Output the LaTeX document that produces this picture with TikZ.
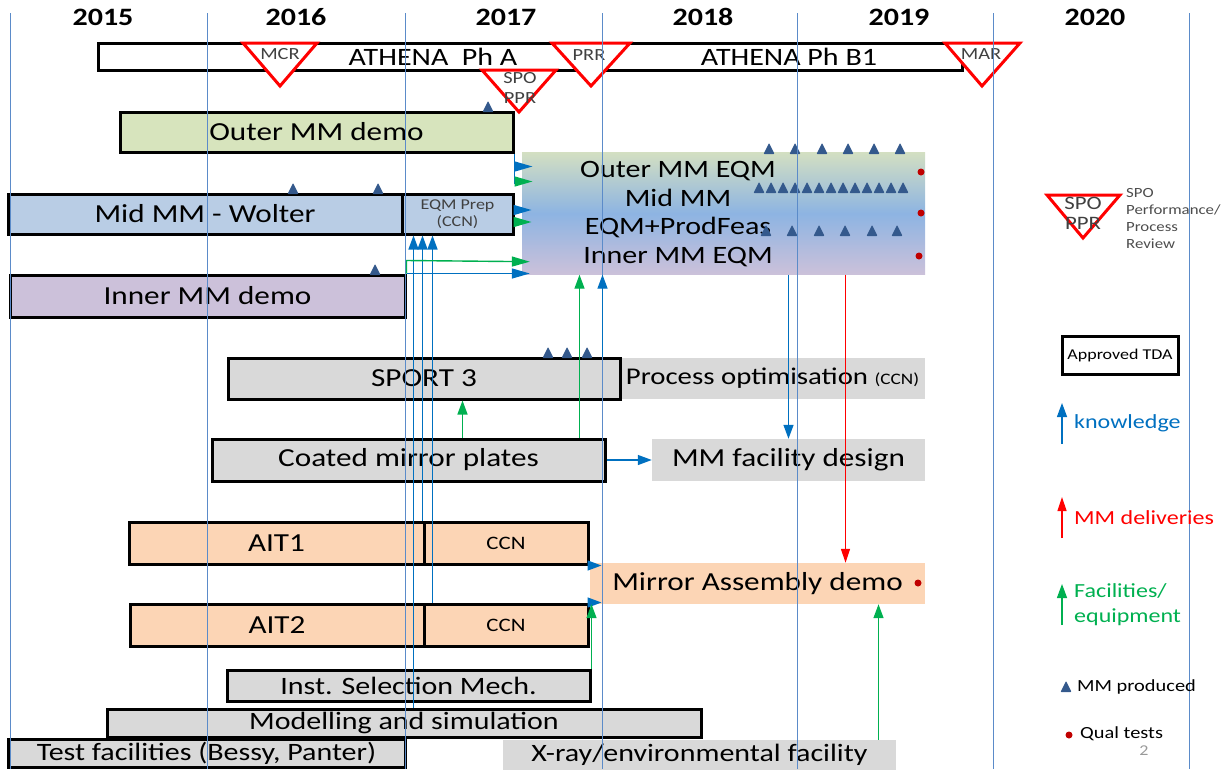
\documentclass[tikz,border=0pt]{standalone}
\usepackage{fontspec}
\setmainfont{Carlito}[FakeStretch=1.2]
\usetikzlibrary{arrows.meta}
\usetikzlibrary{positioning, calc}
\definecolor{outergreen}{HTML}{D7E4BD}
\definecolor{eqmgreen}{HTML}{D3DFC2}
\definecolor{midblue}{HTML}{B9CDE5}
\definecolor{eqmblue}{HTML}{8DB4E2}
\definecolor{innerlilac}{HTML}{CCC1DA}
\definecolor{boxgray}{HTML}{D9D9D9}
\definecolor{peach}{HTML}{FCD5B5}
\definecolor{gridblue}{HTML}{5B8BC9}
\definecolor{knowblue}{HTML}{0070C0}
\definecolor{facgreen}{HTML}{00B050}
\definecolor{mmblue}{HTML}{34598C}
\definecolor{qualred}{HTML}{C00000}
\newcommand\fsz[1]{\fontsize{#1}{#1}\selectfont}

\begin{document}
\begin{tikzpicture}[x=1pt,y=-1pt,
task/.style={draw=black,line width=3pt,inner sep=0pt,font=\fsz{26}},
plainbox/.style={inner sep=0pt,font=\fsz{26}},
review/.style={draw=red,line width=3pt,fill=white,line join=miter},
revlabel/.style={font=\fsz{17},text=black!75,inner sep=0pt},
gridline/.style={draw=gridblue,line width=0.9pt},
knowarr/.style={draw=knowblue,line width=1.4pt,-{Triangle[length=14pt,width=10pt]}},
facarr/.style={draw=facgreen,line width=1.4pt,-{Triangle[length=14pt,width=10pt]}},
delarr/.style={draw=red,line width=1.2pt,-{Triangle[length=14pt,width=9pt]}},
longhead/.style={-{Triangle[length=18pt,width=10pt]}},
legtext/.style={font=\fsz{20},inner sep=0pt},
mmtri/.pic={\fill[mmblue,rounded corners=0.8pt] (-5.5,0) -- (5.5,0) -- (0,-11) -- cycle;}]
\useasboundingbox (0,0) rectangle (1231,769);

\node[task,fill=white,minimum width=864pt,minimum height=27pt] (athena) at (530,56.5) {};
\node[plainbox,font=\fsz{25}] (pha) at (433,57) {ATHENA\ \ Ph A};
\node[plainbox,font=\fsz{25}] (phb) at (789,57) {ATHENA Ph B1};

\node[task,fill=outergreen,minimum width=393pt,minimum height=40pt] (outerdemo) at (316.5,132) {Outer MM demo};
\node[task,fill=midblue,minimum width=394pt,minimum height=40pt] (wolter) at (205,214) {Mid MM - Wolter};
\node[task,fill=midblue,minimum width=111pt,minimum height=40pt,font=\fontsize{15}{17}\selectfont,text=black!75,align=center] (eqmprep) at (457.5,214) {EQM Prep\\(CCN)};
\node[task,fill=innerlilac,minimum width=395pt,minimum height=42pt] (innerdemo) at (207.5,296) {Inner MM demo};
\node[plainbox,top color=eqmgreen,bottom color=innerlilac,middle color=eqmblue,minimum width=403pt,minimum height=122pt] (eqm) at (723.5,213.5) {};
\node[plainbox,font=\fontsize{25}{28.5}\selectfont,align=center] (eqmtext) at (678,214) {Outer MM EQM\\Mid MM\\EQM+ProdFeas\\Inner MM EQM};

\node[plainbox,fill=boxgray,minimum width=305pt,minimum height=41pt] (procopt) at (772.5,378.5) {\fsz{24}Process optimisation {\fsz{16}(CCN)}};
\node[task,fill=boxgray,minimum width=392pt,minimum height=41pt] (sport) at (424,378.5) {SPORT 3};
\node[task,fill=boxgray,minimum width=393pt,minimum height=42pt] (coated) at (408.5,460) {Coated mirror plates};
\node[plainbox,fill=boxgray,minimum width=273pt,minimum height=42pt] (facdesign) at (788.5,460) {MM facility design};

\node[plainbox,fill=peach,minimum width=335pt,minimum height=41pt] (mad) at (757.5,583.5) {Mirror Assembly demo};
\node[task,fill=peach,minimum width=295pt,minimum height=42pt] (ait1) at (276.5,543) {AIT1};
\node[task,fill=peach,minimum width=164pt,minimum height=42pt,font=\fsz{19}] (ccn1) at (506,543) {CCN};
\node[task,fill=peach,minimum width=294pt,minimum height=42pt] (ait2) at (277,625) {AIT2};
\node[task,fill=peach,minimum width=164pt,minimum height=42pt,font=\fsz{19}] (ccn2) at (506,625) {CCN};

\node[task,fill=boxgray,minimum width=363pt,minimum height=31pt,font=\fsz{25}] (ism) at (408.5,686) {Inst. Selection Mech.};
\node[task,fill=boxgray,minimum width=594pt,minimum height=28pt,font=\fsz{25}] (model) at (404,723) {Modelling and simulation};
\node[task,fill=boxgray,minimum width=397pt,minimum height=28pt,font=\fsz{25}] (testfac) at (206.5,753.5) {Test facilities (Bessy, Panter)};
\node[plainbox,fill=boxgray,minimum width=393pt,minimum height=30pt,font=\fsz{25}] (xray) at (699.5,755) {X-ray/environmental facility};

\foreach \tx in {769,795,822,848,874,900} \pic at (\tx,154) {mmtri};
\foreach \i in {0,...,12} \pic at (759+12*\i,193) {mmtri};
\foreach \tx in {766,792,819,845,872,897} \pic at (\tx,236) {mmtri};
\foreach \tx/\ty in {293/194,378/194,375/275,488/112,548/358,567/358,587/358} \pic at (\tx,\ty) {mmtri};
\foreach \qx/\qy in {921/172,921/213,919/256,918/583} \fill[qualred] (\qx,\qy) circle (3.5pt);

\draw[review] (243,43) -- (317,43) -- (280,86) -- cycle;
\node[revlabel] (mcr) at (280,54) {MCR};
\draw[review] (552,43) -- (630,43) -- (591,86) -- cycle;
\node[revlabel] (prr) at (589,55) {PRR};
\draw[review] (945,43) -- (1020,43) -- (982,86) -- cycle;
\node[revlabel] (mar) at (981,54) {MAR};
\draw[review] (482,70) -- (556,70) -- (519,112) -- cycle;
\node[revlabel,font=\fontsize{17}{20}\selectfont,align=center] (spoppr) at (520,88) {SPO\\PPR};

\foreach \gx in {10,207,405,602,797,993,1189} \draw[gridline] (\gx,13) -- (\gx,769);
\foreach \yr/\yx in {2015/103,2016/296,2017/506,2018/703,2019/899,2020/1095}
  \node[plainbox,font=\bfseries\fsz{25}] (y\yr) at (\yx,17) {\yr};

\draw[knowarr,-] (outerdemo.south east) -- ++(0,30);
\draw[knowarr,longhead] ([yshift=-13pt]outerdemo.south east) -- +(18,0);
\draw[facarr,longhead] ([yshift=-28pt]outerdemo.south east) -- +(18,0);
\draw[knowarr,longhead] ([yshift=4pt]eqmprep.east) -- +(17,0);
\draw[facarr,longhead] ([yshift=-8pt]eqmprep.east) -- +(17,0);
\draw[knowarr] ([xshift=13pt]eqmprep.south west |- model.north) -- ([xshift=13pt]eqmprep.south west);
\draw[knowarr] (ccn1.north west) -- (ccn1.north west |- eqmprep.south);
\draw[knowarr] ([xshift=10pt]ccn2.north west) -- ([xshift=10pt]ccn2.north west |- eqmprep.south);
\draw[facarr,longhead] (innerdemo.north east) -- ++(0,-13) -- ([shift={(8pt,13pt)}]eqm.south west);
\draw[knowarr,longhead] (innerdemo.north east) -- ([xshift=8pt]eqm.south west |- innerdemo.north east);
\draw[facarr] ([xshift=-27pt]coated.north east) -- ([xshift=-27pt]coated.north east |- eqm.south);
\draw[knowarr] ([xshift=-19pt]sport.north east) -- ([xshift=-19pt]sport.north east |- eqm.south);
\draw[facarr] ([xshift=54pt]coated.north) -- ([xshift=54pt]coated.north |- sport.south);
\draw[knowarr] (coated.east) -- (facdesign.west);
\draw[knowarr] (eqm.south -| facdesign.north) -- (facdesign.north);
\draw[delarr] ([xshift=88pt]mad.north |- eqm.south) -- ([xshift=88pt]mad.north);
\draw[facarr] ([xshift=179pt]xray.north) -- ([xshift=179pt]xray.north |- mad.south);
\draw[knowarr] (ccn1.south east) -- +(12,0);
\draw[knowarr] (ccn2.north east) -- +(12,0);
\draw[facarr] (ism.north east) -- (ism.north east |- mad.south);

\draw[review] (1047,195) -- (1120,195) -- (1083,238) -- cycle;
\node[revlabel,font=\fontsize{19}{20}\selectfont,align=center] (legspo) at (1083,213) {SPO\\PPR};
\node[legtext,font=\fontsize{14}{17}\selectfont,text=black!70,align=left,anchor=west] (legspotext) at (1126,218) {SPO\\Performance/\\Process\\Review};
\node[task,fill=white,minimum width=116pt,minimum height=38pt,font=\fsz{15}] (tda) at (1120,355) {Approved TDA};
\coordinate (knowfoot) at (1062,444);
\draw[knowarr] (knowfoot) -- ++(0,-41) coordinate (knowtip);
\node[legtext,text=knowblue,right=12pt of $(knowfoot)!0.5!(knowtip)$] (knowlabel) {knowledge};
\coordinate (delfoot) at (1062,538);
\draw[delarr] (delfoot) -- ++(0,-41) coordinate (deltip);
\node[legtext,text=red,right=12pt of $(delfoot)!0.5!(deltip)$] (dellabel) {MM deliveries};
\coordinate (facfoot) at (1062,625);
\draw[facarr] (facfoot) -- ++(0,-41) coordinate (factip);
\node[legtext,text=facgreen,align=left,font=\fontsize{20}{25}\selectfont,right=12pt of $(facfoot)!0.5!(factip)$] (faclabel) {Facilities/\\equipment};
\pic at (1066,692) {mmtri};
\node[legtext,font=\fsz{17},anchor=west] (mmlabel) at (1077,687) {MM produced};
\fill[qualred] (1069,735) circle (3.5pt) coordinate (qualdot);
\node[legtext,font=\fsz{17},anchor=west] (quallabel) at (1080,734) {Qual tests};
\node[plainbox,text=black!40,font=\fsz{15}] (pagenum) at (1144,751) {2};

\end{tikzpicture}
\end{document}
